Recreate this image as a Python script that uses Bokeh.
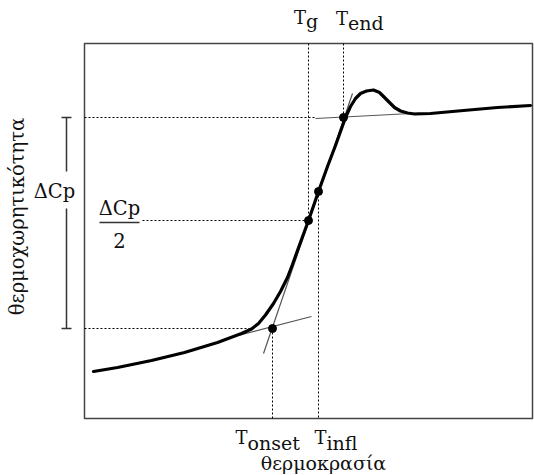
import math
from bokeh.plotting import figure
from bokeh.models import Range1d, Label, Arrow, TeeHead
from bokeh.embed import file_html
from bokeh.resources import INLINE

# DSC heat-capacity curve (arbitrary units)
temperature = [9, 33, 67, 100, 133, 157, 167, 174, 181, 189, 196, 203, 208, 213, 224, 234,
               243, 251, 256, 261, 266, 271, 276, 282, 289, 295, 300, 305, 310, 316, 323,
               330, 346, 379, 413, 446]
heat_capacity = [47, 51, 58, 66, 76, 85, 89.5, 95, 103.5, 115, 127, 141, 154, 168, 198, 227,
                 252, 273, 287, 301, 312, 320, 325, 327.5, 328.5, 326, 321, 316, 311, 307.5,
                 305.5, 304.5, 305, 308, 311, 313]

# characteristic temperatures and heat-capacity levels
t_onset, t_g, t_infl, t_end = 188, 224, 234, 259
cp_low, cp_half, cp_infl, cp_high = 90, 198, 227, 301

# construction tangents
lower_tangent_t = [154, 227]
lower_tangent_cp = [83, 102]
steep_tangent_t = [179, 268]
steep_tangent_cp = [65, 325]
upper_tangent_t = [231, 336]
upper_tangent_cp = [300, 305.5]

marker_t = [t_onset, t_g, t_infl, t_end]
marker_cp = [cp_low, cp_half, cp_infl, cp_high]

X_MAX, Y_MAX = 448, 375
FONT = "DejaVu Serif"

p = figure(width=534, height=475, x_range=Range1d(-84, 450), y_range=Range1d(-57, 418),
           x_axis_location=None, y_axis_location=None, toolbar_location=None,
           output_backend="svg", min_border=0, min_border_left=0, min_border_right=0,
           min_border_top=0, min_border_bottom=0)
p.grid.visible = False
p.outline_line_color = None
p.background_fill_color = "white"
p.border_fill_color = "white"

# plot box
p.quad(left=[0], right=[X_MAX], bottom=[0], top=[Y_MAX], fill_color=None,
       line_color="#444444", line_width=1.5)

# dotted guide lines
dot_x0 = [0, 0, 58, t_onset, t_g, t_infl, t_end]
dot_y0 = [cp_high, cp_low, cp_half, cp_low, Y_MAX, cp_infl, Y_MAX]
dot_x1 = [231, 166, t_g, t_onset, t_g, t_infl, t_end]
dot_y1 = [cp_high, cp_low, cp_half, 0, cp_half, 0, cp_high]
p.segment(dot_x0, dot_y0, dot_x1, dot_y1, line_color="black", line_width=1,
          line_dash="2 2")

# thin tangents
for tx, ty in [(lower_tangent_t, lower_tangent_cp), (steep_tangent_t, steep_tangent_cp),
               (upper_tangent_t, upper_tangent_cp)]:
    p.line(tx, ty, line_color="#555555", line_width=1.2)

# main curve
p.line(temperature, heat_capacity, line_color="black", line_width=3.2, line_join="round",
       line_cap="round")

p.scatter(marker_t, marker_cp, size=8, color="black")

# ΔCp bracket
bx = -18
p.add_layout(Arrow(start=TeeHead(size=10, line_width=1.5, line_color="#333333"), end=None,
                   x_start=bx, y_start=cp_high, x_end=bx, y_end=247,
                   line_width=1.5, line_color="#333333"))
p.add_layout(Arrow(start=TeeHead(size=10, line_width=1.5, line_color="#333333"), end=None,
                   x_start=bx, y_start=cp_low, x_end=bx, y_end=210,
                   line_width=1.5, line_color="#333333"))
# fraction bar of ΔCp / 2
p.segment([15], [196], [55], [196], line_color="#333333", line_width=1.3)


def lab(x, y, text, size, align="left", baseline="alphabetic", angle=0.0):
    p.add_layout(Label(x=x, y=y, text=text, text_font=FONT, text_font_size=f"{size}px",
                       text_align=align, text_baseline=baseline, angle=angle,
                       text_color="#111111"))


lab(-30, 227, "ΔCp", 19.5, align="center")
lab(35, 210, "ΔCp", 19.5, align="center")
lab(35, 178, "2", 19.5, align="center")

lab(t_g - 2.5, 401, "T", 18, align="right")
lab(t_g - 2.5, 398, "g", 19)
lab(t_end + 4.5, 400, "T", 18, align="right")
lab(t_end + 4.5, 395.7, "end", 19)
lab(t_onset - 25, -19.3, "T", 18, align="right")
lab(t_onset - 25, -24, "onset", 19)
lab(t_infl + 8, -19.3, "T", 18, align="right")
lab(t_infl + 8, -24, "infl", 19)

lab(239, -44, "θερμοκρασία", 19, align="center")
lab(-67, 202, "θερμοχωρητικότητα", 19.5, align="center", baseline="middle",
    angle=math.pi / 2)

open("out.html", "w").write(file_html(p, INLINE))
